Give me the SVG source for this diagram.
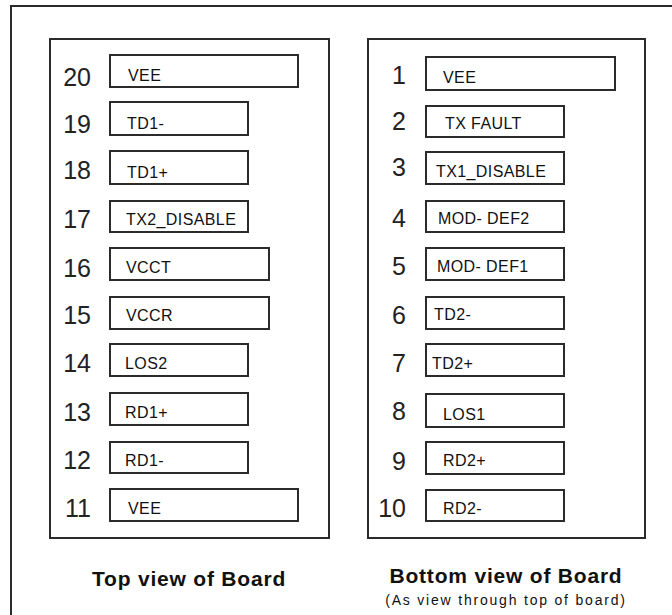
<svg xmlns="http://www.w3.org/2000/svg" width="672" height="615" viewBox="0 0 672 615">
<style>
.frame{fill:none;stroke:#2b2b2b;stroke-width:2}
.pin{fill:#fff;stroke:#2b2b2b;stroke-width:2}
.num{font-family:"Liberation Sans",Arial,sans-serif;font-size:25px;fill:#222;text-anchor:end}
.lbl{font-family:"Liberation Sans",Arial,sans-serif;font-size:16px;fill:#111;letter-spacing:0.4px}
.title{font-family:"Liberation Sans",Arial,sans-serif;font-size:21px;font-weight:bold;fill:#111;text-anchor:middle;letter-spacing:0.8px}
.sub{font-family:"Liberation Sans",Arial,sans-serif;font-size:14px;fill:#111;text-anchor:middle;letter-spacing:1.8px}
</style>
<rect width="672" height="615" fill="#fff"/>
<rect id="outer-frame" class="frame" x="11" y="6" width="700" height="700"/>

<g id="top-view">
<rect class="frame" x="50" y="39" width="279" height="499"/>
<g id="pin20"><rect class="pin" x="110" y="55" width="188" height="32"/><text class="num" x="91" y="86">20</text><text class="lbl" x="128" y="81">VEE</text></g>
<g id="pin19"><rect class="pin" x="110" y="102" width="138" height="33"/><text class="num" x="91" y="133">19</text><text class="lbl" x="127" y="129">TD1-</text></g>
<g id="pin18"><rect class="pin" x="110" y="151" width="138" height="33"/><text class="num" x="91" y="179">18</text><text class="lbl" x="127" y="178">TD1+</text></g>
<g id="pin17"><rect class="pin" x="110" y="201" width="138" height="31"/><text class="num" x="91" y="228">17</text><text class="lbl" x="126" y="225">TX2_DISABLE</text></g>
<g id="pin16"><rect class="pin" x="110" y="248" width="159" height="32"/><text class="num" x="91" y="277">16</text><text class="lbl" x="126" y="273">VCCT</text></g>
<g id="pin15"><rect class="pin" x="110" y="297" width="159" height="32"/><text class="num" x="91" y="324">15</text><text class="lbl" x="126" y="321">VCCR</text></g>
<g id="pin14"><rect class="pin" x="110" y="344" width="138" height="32"/><text class="num" x="91" y="372">14</text><text class="lbl" x="125" y="369">LOS2</text></g>
<g id="pin13"><rect class="pin" x="110" y="393" width="138" height="32"/><text class="num" x="91" y="421">13</text><text class="lbl" x="125" y="418">RD1+</text></g>
<g id="pin12"><rect class="pin" x="110" y="442" width="138" height="31"/><text class="num" x="91" y="469">12</text><text class="lbl" x="125" y="466">RD1-</text></g>
<g id="pin11"><rect class="pin" x="110" y="489" width="188" height="32"/><text class="num" x="91" y="517">11</text><text class="lbl" x="128" y="514">VEE</text></g>
<text class="title" x="189" y="586">Top view of Board</text>
</g>

<g id="bottom-view">
<rect class="frame" x="368" y="39" width="277" height="499"/>
<g id="pin1"><rect class="pin" x="426" y="57" width="189" height="33"/><text class="num" x="406" y="84">1</text><text class="lbl" x="443" y="83">VEE</text></g>
<g id="pin2"><rect class="pin" x="426" y="106" width="138" height="31"/><text class="num" x="406" y="130">2</text><text class="lbl" x="445" y="129">TX FAULT</text></g>
<g id="pin3"><rect class="pin" x="426" y="152" width="138" height="32"/><text class="num" x="406" y="176">3</text><text class="lbl" x="436" y="177">TX1_DISABLE</text></g>
<g id="pin4"><rect class="pin" x="426" y="201" width="138" height="31"/><text class="num" x="406" y="227">4</text><text class="lbl" x="438" y="224">MOD- DEF2</text></g>
<g id="pin5"><rect class="pin" x="426" y="248" width="138" height="32"/><text class="num" x="406" y="275">5</text><text class="lbl" x="437" y="272">MOD- DEF1</text></g>
<g id="pin6"><rect class="pin" x="426" y="297" width="138" height="32"/><text class="num" x="406" y="324">6</text><text class="lbl" x="434" y="320">TD2-</text></g>
<g id="pin7"><rect class="pin" x="426" y="344" width="138" height="32"/><text class="num" x="406" y="372">7</text><text class="lbl" x="432" y="369">TD2+</text></g>
<g id="pin8"><rect class="pin" x="426" y="394" width="138" height="33"/><text class="num" x="406" y="420">8</text><text class="lbl" x="443" y="420">LOS1</text></g>
<g id="pin9"><rect class="pin" x="426" y="442" width="138" height="32"/><text class="num" x="406" y="470">9</text><text class="lbl" x="443" y="466">RD2+</text></g>
<g id="pin10"><rect class="pin" x="426" y="490" width="138" height="31"/><text class="num" x="406" y="517">10</text><text class="lbl" x="443" y="514">RD2-</text></g>
<text class="title" x="506" y="583">Bottom view of Board</text>
<text class="sub" x="506" y="605">(As view through top of board)</text>
</g>
</svg>
